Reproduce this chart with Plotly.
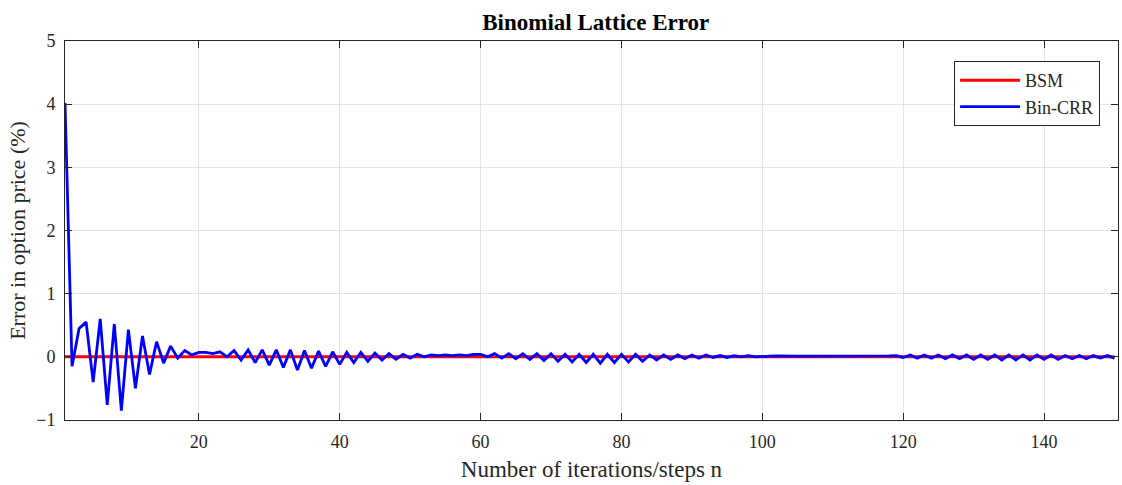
import plotly.graph_objects as go

steps = list(range(1, 151))

bin_crr = [
    4.02, -0.15, 0.45, 0.55, -0.40, 0.60, -0.76, 0.52, -0.85, 0.43,
    -0.50, 0.33, -0.28, 0.24, -0.10, 0.17, -0.02, 0.10, 0.03, 0.07,
    0.07, 0.05, 0.08, 0.00, 0.10, -0.05, 0.11, -0.09, 0.11, -0.13,
    0.11, -0.17, 0.11, -0.21, 0.10, -0.18, 0.09, -0.15, 0.08, -0.12,
    0.07, -0.09, 0.07, -0.07, 0.06, -0.05, 0.05, -0.04, 0.04, -0.02,
    0.04, 0.00, 0.03, 0.02, 0.03, 0.02, 0.03, 0.02, 0.04, 0.04,
    0.00, 0.05, -0.02, 0.05, -0.03, 0.05, -0.04, 0.05, -0.06, 0.05,
    -0.07, 0.04, -0.08, 0.04, -0.09, 0.04, -0.10, 0.04, -0.09, 0.04,
    -0.08, 0.04, -0.07, 0.03, -0.05, 0.03, -0.04, 0.03, -0.03, 0.03,
    -0.02, 0.03, -0.01, 0.02, -0.01, 0.02, 0.00, 0.02, 0.00, 0.01,
    0.01, 0.015, 0.01, 0.015, 0.01, 0.01, 0.01, 0.01, 0.01, 0.01,
    0.01, 0.01, 0.01, 0.01, 0.01, 0.015, 0.005, 0.015, 0.02, -0.01,
    0.03, -0.02, 0.03, -0.02, 0.03, -0.03, 0.03, -0.03, 0.03, -0.04,
    0.03, -0.04, 0.03, -0.05, 0.03, -0.05, 0.03, -0.05, 0.03, -0.04,
    0.03, -0.04, 0.02, -0.03, 0.02, -0.03, 0.02, -0.02, 0.02, -0.02,
]

bsm = [0.0] * len(steps)

x_ticks = [20, 40, 60, 80, 100, 120, 140]
y_ticks = [-1, 0, 1, 2, 3, 4, 5]

font_family = "Liberation Serif, Times New Roman, serif"
axis_color = "#262626"

fig = go.Figure()
fig.add_trace(go.Scatter(x=steps, y=bsm, mode="lines", name="BSM",
                         line=dict(color="#ff0000", width=3)))
fig.add_trace(go.Scatter(x=steps, y=bin_crr, mode="lines", name="Bin-CRR",
                         line=dict(color="#0000ff", width=2.8)))

axis_common = dict(
    showline=True, linecolor=axis_color, linewidth=1, mirror="ticks",
    ticks="inside", ticklen=7, tickcolor=axis_color,
    showgrid=True, gridcolor="#e3e3e3", gridwidth=1, zeroline=False,
    tickfont=dict(family=font_family, size=18, color=axis_color),
)

fig.update_xaxes(range=[1, 150.5], tickvals=x_ticks, ticklabelstandoff=5,
                 title=dict(text="Number of iterations/steps n",
                            font=dict(family=font_family, size=23, color=axis_color),
                            standoff=10),
                 **axis_common)
fig.update_yaxes(range=[-1, 5], tickvals=y_ticks, ticklabelstandoff=5,
                 title=dict(text="Error in option price (%)",
                            font=dict(family=font_family, size=22, color=axis_color),
                            standoff=4),
                 **axis_common)

fig.update_layout(
    width=1122, height=485,
    margin=dict(l=65, r=4, t=41, b=65),
    paper_bgcolor="white", plot_bgcolor="white",
    title=dict(text="<b>Binomial Lattice Error</b>", x=0.531, xanchor="center",
               y=0.955, yanchor="middle",
               font=dict(family=font_family, size=23, color="#000000")),
    legend=dict(x=0.983, y=0.947, xanchor="right", yanchor="top",
                bgcolor="white", bordercolor=axis_color, borderwidth=1,
                font=dict(family=font_family, size=18, color=axis_color),
                itemwidth=60, tracegroupgap=0),
    showlegend=True,
)

fig.write_html("out.html", config={"displayModeBar": False},
               post_script="document.body.style.margin='0';document.body.style.overflow='hidden';")
